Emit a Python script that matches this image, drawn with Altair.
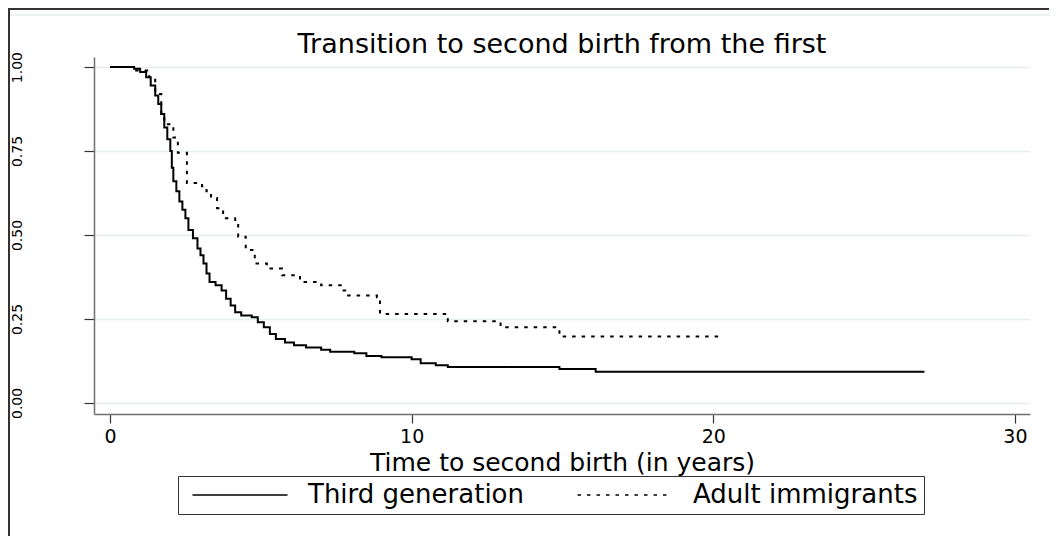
import altair as alt
import pandas as pd

# ---- data (Kaplan-Meier step curves) ----
series_names = ["Third generation", "Adult immigrants"]

third_t = [0.0, 0.8, 1.0, 1.2, 1.35, 1.5, 1.6, 1.7, 1.8, 1.9, 2.0, 2.05, 2.1, 2.2, 2.3, 2.4,
           2.5, 2.6, 2.75, 2.9, 3.0, 3.1, 3.2, 3.3, 3.5, 3.7, 3.85, 4.0, 4.15, 4.35, 4.7,
           4.9, 5.1, 5.3, 5.5, 5.8, 6.1, 6.5, 7.0, 7.3, 8.1, 8.5, 9.0, 10.0, 10.3, 10.8,
           11.2, 14.9, 16.1, 27.0]
third_s = [1.0, 0.995, 0.985, 0.97, 0.945, 0.915, 0.89, 0.86, 0.82, 0.785, 0.75, 0.70, 0.66,
           0.63, 0.60, 0.575, 0.55, 0.515, 0.49, 0.46, 0.44, 0.415, 0.385, 0.36, 0.35, 0.335,
           0.31, 0.29, 0.27, 0.26, 0.255, 0.24, 0.225, 0.205, 0.19, 0.18, 0.172, 0.165,
           0.158, 0.152, 0.148, 0.14, 0.136, 0.13, 0.118, 0.112, 0.107, 0.101, 0.093, 0.093]

adult_t = [0.0, 0.8, 1.3, 1.5, 1.7, 1.8, 2.1, 2.25, 2.55, 3.05, 3.2, 3.35, 3.55, 3.75, 4.15,
           4.25, 4.5, 4.8, 5.2, 5.7, 6.3, 7.0, 7.7, 7.8, 8.85, 8.95, 11.2, 12.95, 14.9, 20.2]
adult_s = [1.0, 0.99, 0.97, 0.92, 0.86, 0.83, 0.79, 0.745, 0.655, 0.645, 0.63, 0.61, 0.58,
           0.55, 0.54, 0.495, 0.455, 0.415, 0.40, 0.38, 0.36, 0.35, 0.335, 0.32, 0.315,
           0.265, 0.243, 0.225, 0.198, 0.198]

x_ticks = [0, 10, 20, 30]
y_ticks = [0.0, 0.25, 0.5, 0.75, 1.0]
title_text = "Transition to second birth from the first"
x_title = "Time to second birth (in years)"

df = pd.DataFrame({
    "series": [series_names[0]] * len(third_t) + [series_names[1]] * len(adult_t),
    "t": third_t + adult_t,
    "S": third_s + adult_s,
})
one = pd.DataFrame({"k": [0]})

FONT = "DejaVu Sans"

lines = alt.Chart(df).mark_line(interpolate="step-after", strokeWidth=2, color="black").encode(
    x=alt.X("t:Q",
            scale=alt.Scale(domain=[-0.53, 30.5], nice=False, zero=False),
            axis=alt.Axis(values=x_ticks, title=x_title, grid=False, tickSize=9,
                          labelFontSize=19, labelFont=FONT, labelPadding=4, labelColor="black",
                          titleFont=FONT, titleFontSize=25, titleFontWeight="normal",
                          titleColor="black", titleBaseline="alphabetic", titleY=56,
                          domainColor="#707070", domainWidth=1.5, tickColor="#333333",
                          tickWidth=1.2)),
    y=alt.Y("S:Q",
            scale=alt.Scale(domain=[-0.033, 1.03], nice=False, zero=False),
            axis=alt.Axis(values=y_ticks, format=".2f", title=None, labelAngle=-90,
                          labelAlign="center", labelBaseline="bottom", labelPadding=60,
                          labelFontSize=14, labelFont=FONT, labelColor="black", tickSize=10,
                          grid=True, gridColor="#E6EEF0", gridWidth=1.5,
                          domainColor="#707070", domainWidth=1.5, tickColor="#333333",
                          tickWidth=1.2)),
    strokeDash=alt.StrokeDash(
        "series:N",
        scale=alt.Scale(domain=series_names, range=[[1, 0], [3.5, 6]]),
        legend=alt.Legend(title=None, orient="none", legendX=84, legendY=419,
                          direction="horizontal", padding=6, strokeColor="#333333",
                          fillColor="white", symbolType="M-4,0L4,0", symbolSize=564,
                          symbolStrokeWidth=1.5, symbolStrokeColor="black",
                          labelFontSize=26, labelFont=FONT, labelColor="black",
                          labelOffset=55, columnPadding=45, symbolOffset=43,
                          labelLimit=400)),
)

top_border = alt.Chart(one).mark_rule(color="#333333", strokeWidth=2).encode(
    x=alt.value(-86), x2=alt.value(963), y=alt.value(-48))
faint_line = alt.Chart(one).mark_rule(color="#E6ECEE", strokeWidth=1.5).encode(
    x=alt.value(-84), x2=alt.value(963), y=alt.value(-42))
left_border = alt.Chart(one).mark_rule(color="#333333", strokeWidth=2).encode(
    x=alt.value(-85), y=alt.value(-49), y2=alt.value(481))
title = alt.Chart(one).mark_text(font=FONT, fontSize=27, align="center",
                                 baseline="alphabetic", color="black").encode(
    x=alt.value(468), y=alt.value(-4), text=alt.value(title_text))

chart = alt.layer(faint_line, lines, top_border, left_border, title).properties(
    width=936, height=357,
    padding={"left": 86, "top": 49, "right": 19, "bottom": 122},
    autosize=alt.AutoSizeParams(type="none"),
    background="white",
).configure_view(stroke=None)

chart.save("out.html", embed_options={"renderer": "svg", "actions": False})
